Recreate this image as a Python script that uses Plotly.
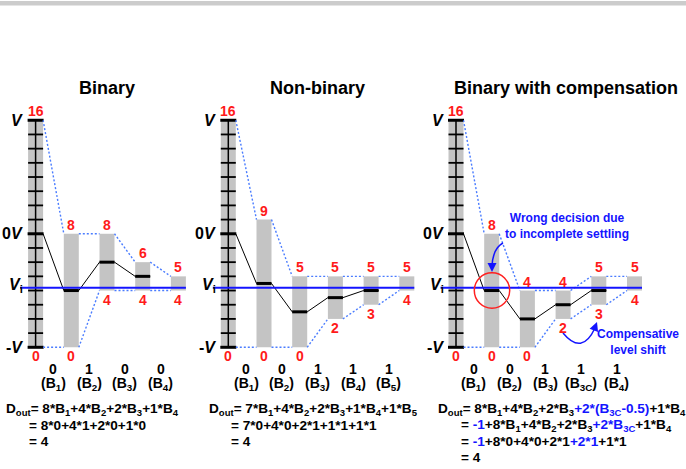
import plotly.graph_objects as go

# ---------------- data ----------------
titles = ["Binary", "Non-binary", "Binary with compensation"]

bin_top = [16, 8, 8, 6, 5]
bin_bot = [0, 0, 4, 4, 4]
bin_dec = [8, 4, 6, 5]
bin_bits = ["0", "1", "0", "0"]
bin_names = ["B<sub>1</sub>", "B<sub>2</sub>", "B<sub>3</sub>", "B<sub>4</sub>"]

nb_top = [16, 9, 5, 5, 5, 5]
nb_bot = [0, 0, 0, 2, 3, 4]
nb_dec = [8, 4.5, 2.5, 3.5, 4]
nb_bits = ["0", "0", "1", "1", "1"]
nb_names = ["B<sub>1</sub>", "B<sub>2</sub>", "B<sub>3</sub>", "B<sub>4</sub>", "B<sub>5</sub>"]

cmp_top = [16, 8, 4, 4, 5, 5]
cmp_bot = [0, 0, 0, 2, 3, 4]
cmp_dec = [8, 4, 2, 3, 4]
cmp_bits = ["0", "0", "1", "1", "1"]
cmp_names = ["B<sub>1</sub>", "B<sub>2</sub>", "B<sub>3</sub>", "B<sub>3C</sub>", "B<sub>4</sub>"]

VI = 4.2
FULL = 16
MID = 8

BLUE = "#1414ff"
BL = '<span style="color:#1414ff">'
SE = "</span>"
bin_eq = [
    "D<sub>out</sub>= 8*B<sub>1</sub>+4*B<sub>2</sub>+2*B<sub>3</sub>+1*B<sub>4</sub>",
    "= 8*0+4*1+2*0+1*0",
    "= 4",
]
nb_eq = [
    "D<sub>out</sub>= 7*B<sub>1</sub>+4*B<sub>2</sub>+2*B<sub>3</sub>+1*B<sub>4</sub>+1*B<sub>5</sub>",
    "= 7*0+4*0+2*1+1*1+1*1",
    "= 4",
]
cmp_eq = [
    "D<sub>out</sub>= 8*B<sub>1</sub>+4*B<sub>2</sub>+2*B<sub>3</sub>" + BL + "+2*(B<sub>3C</sub>-0.5)" + SE + "+1*B<sub>4</sub>",
    "= " + BL + "-1" + SE + "+8*B<sub>1</sub>+4*B<sub>2</sub>+2*B<sub>3</sub>" + BL + "+2*B<sub>3C</sub>" + SE + "+1*B<sub>4</sub>",
    "= " + BL + "-1" + SE + "+8*0+4*0+2*1" + BL + "+2*1" + SE + "+1*1",
    "= 4",
]

# ---------------- layout constants ----------------
W, H = 686, 469
Y0PX = 347.3          # pixel row of level 0
PPU = 14.19           # pixels per level unit
def lv(py):
    return (Y0PX - py) / PPU

ORIG = [35.6, 228.3, 456.0]   # ruler centre of each panel (x axis in px units)
STEP = 35.7
BW = 15.0
GRAY = "#c4c4c4"
FONT = "Arial, 'Liberation Sans', sans-serif"
EQ_SIZE = 13.6

panels = [
    (bin_top, bin_bot, bin_dec, bin_bits, bin_names, bin_eq, 4, 27),
    (nb_top, nb_bot, nb_dec, nb_bits, nb_names, nb_eq, 207, 229),
    (cmp_top, cmp_bot, cmp_dec, cmp_bits, cmp_names, cmp_eq, 436, 459),
]
title_x = [107, 317, 566]

fig = go.Figure()
ann = []
shapes = []

for p, (top, bot, dec, bits, names, eq, eqx1, eqx2) in enumerate(panels):
    o = ORIG[p]
    xs = [o + i * STEP for i in range(len(top))]
    L = [x - BW / 2 for x in xs]
    R = [x + BW / 2 for x in xs]

    # gray bars (ruler included)
    fig.add_trace(go.Bar(x=xs, y=[t - b for t, b in zip(top, bot)], base=bot,
                         width=BW, marker=dict(color=GRAY, line=dict(width=0)),
                         hoverinfo="skip", showlegend=False))
    # ruler ticks
    tx, ty, kx, ky = [], [], [], []
    for lvl in range(0, FULL + 1):
        if lvl in (0, MID, FULL):
            kx += [L[0] - 0.5, R[0] + 0.5, None]; ky += [lvl, lvl, None]
        else:
            tx += [L[0], R[0], None]; ty += [lvl, lvl, None]
    fig.add_trace(go.Scatter(x=tx, y=ty, mode="lines", line=dict(color="black", width=1.8),
                             hoverinfo="skip", showlegend=False))
    fig.add_trace(go.Scatter(x=kx, y=ky, mode="lines", line=dict(color="black", width=3),
                             hoverinfo="skip", showlegend=False))
    fig.add_trace(go.Scatter(x=[xs[0], xs[0]], y=[0, FULL], mode="lines",
                             line=dict(color="black", width=1.5), hoverinfo="skip", showlegend=False))

    # blue dotted envelope
    dx, dy = [], []
    for i in range(len(top) - 1):
        dx += [R[i], L[i + 1], None]; dy += [top[i], top[i + 1], None]
        dx += [R[i], L[i + 1], None]; dy += [bot[i], bot[i + 1], None]
    fig.add_trace(go.Scatter(x=dx, y=dy, mode="lines",
                             line=dict(color="#4a7cff", width=1.4, dash="2px,2px"),
                             hoverinfo="skip", showlegend=False))

    # thin trajectory line
    px_, py_ = [R[0]], [dec[0]]
    for j in range(1, len(dec)):
        px_ += [L[j], R[j]]; py_ += [dec[j], dec[j]]
    fig.add_trace(go.Scatter(x=px_, y=py_, mode="lines", line=dict(color="black", width=1),
                             hoverinfo="skip", showlegend=False))

    # Vi line
    fig.add_trace(go.Scatter(x=[L[0] - 8, R[-1]], y=[VI, VI], mode="lines",
                             line=dict(color=BLUE, width=2), hoverinfo="skip", showlegend=False))

    # thick decision levels
    hx, hy = [], []
    for j in range(1, len(dec)):
        hx += [L[j], R[j], None]; hy += [dec[j], dec[j], None]
    fig.add_trace(go.Scatter(x=hx, y=hy, mode="lines", line=dict(color="black", width=3),
                             hoverinfo="skip", showlegend=False))

    # red level labels
    for i in range(len(top)):
        ann.append(dict(x=xs[i], y=top[i], text="<b>%g</b>" % top[i], showarrow=False,
                        yanchor="bottom", yshift=-1, font=dict(color="#ff1a1a", size=14, family=FONT)))
        ann.append(dict(x=xs[i], y=bot[i], text="<b>%g</b>" % bot[i], showarrow=False,
                        yanchor="top", yshift=1, font=dict(color="#ff1a1a", size=14, family=FONT)))

    # axis labels
    lx = L[0] - 3
    for lvl, txt in [(FULL, "<b><i>V</i></b>"), (MID, "<b>0<i>V</i></b>"),
                     (VI, "<b><i>V</i><sub>i</sub></b>"), (0, "<b>-<i>V</i></b>")]:
        ann.append(dict(x=lx, y=lvl, text=txt, showarrow=False, xanchor="right",
                        yshift=(2 if lvl == VI else 0),
                        font=dict(color="black", size=16, family=FONT)))

    # title
    ann.append(dict(x=title_x[p], y=lv(88), text="<b>%s</b>" % titles[p], showarrow=False,
                    font=dict(color="black", size=18, family=FONT)))

    # bits
    for k in range(len(bits)):
        bx = (xs[k] + xs[k + 1]) / 2
        ann.append(dict(x=bx, y=lv(369), text="<b>%s</b>" % bits[k], showarrow=False,
                        font=dict(color="black", size=14, family=FONT)))
        ann.append(dict(x=bx, y=lv(384), text="<b>(%s)</b>" % names[k], showarrow=False,
                        font=dict(color="black", size=14, family=FONT)))

    # equations
    for n, line in enumerate(eq):
        ann.append(dict(x=(eqx1 if n == 0 else eqx2), y=lv(409 + 16 * n), text="<b>%s</b>" % line,
                        showarrow=False, xanchor="left",
                        font=dict(color="black", size=EQ_SIZE, family=FONT)))

# --- annotations in compensation panel ---
ann.append(dict(x=567, y=lv(226), text="<b>Wrong decision due<br>to incomplete settling</b>",
                showarrow=False, font=dict(color=BLUE, size=12, family=FONT)))
ann.append(dict(x=638, y=lv(342), text="<b>Compensative<br>level shift</b>",
                showarrow=False, font=dict(color=BLUE, size=12, family=FONT)))

# red circle
cx, cy, r = 492, 290.5, 17.7
shapes.append(dict(type="circle", xref="x", yref="y", x0=cx - r, x1=cx + r,
                   y0=lv(cy + r), y1=lv(cy - r), line=dict(color="#ff2020", width=1.5)))

# curved arrows
shapes.append(dict(type="path", xref="x", yref="y",
                   path="M 503,%f Q 493,%f 492,%f" % (lv(243), lv(248), lv(266)),
                   line=dict(color=BLUE, width=1.5)))
ann.append(dict(x=492, y=lv(272), ax=0, ay=-8, text="", showarrow=True, arrowhead=2,
                arrowsize=1.2, arrowwidth=1.5, arrowcolor=BLUE))
shapes.append(dict(type="path", xref="x", yref="y",
                   path="M 563,%f Q 582,%f 595,%f" % (lv(333), lv(356), lv(328)),
                   line=dict(color=BLUE, width=1.5)))
ann.append(dict(x=597, y=lv(322), ax=-3, ay=8, text="", showarrow=True, arrowhead=2,
                arrowsize=1.2, arrowwidth=1.5, arrowcolor=BLUE))

# top gray band
shapes.append(dict(type="rect", xref="paper", yref="paper", x0=0, x1=1,
                   y0=1 - 5.5 / H, y1=1 - 1 / H, fillcolor="#cccccc", line=dict(width=0)))

fig.update_layout(
    width=W, height=H, margin=dict(l=0, r=0, t=0, b=0),
    paper_bgcolor="white", plot_bgcolor="white",
    barmode="overlay", showlegend=False,
    xaxis=dict(range=[0, W], visible=False, fixedrange=True),
    yaxis=dict(range=[lv(H), lv(0)], visible=False, fixedrange=True),
    annotations=ann, shapes=shapes,
    font=dict(family=FONT),
)

fig.write_html("out.html", config={"displayModeBar": False},
               post_script="document.body.style.margin='0';document.body.style.overflow='hidden';")
